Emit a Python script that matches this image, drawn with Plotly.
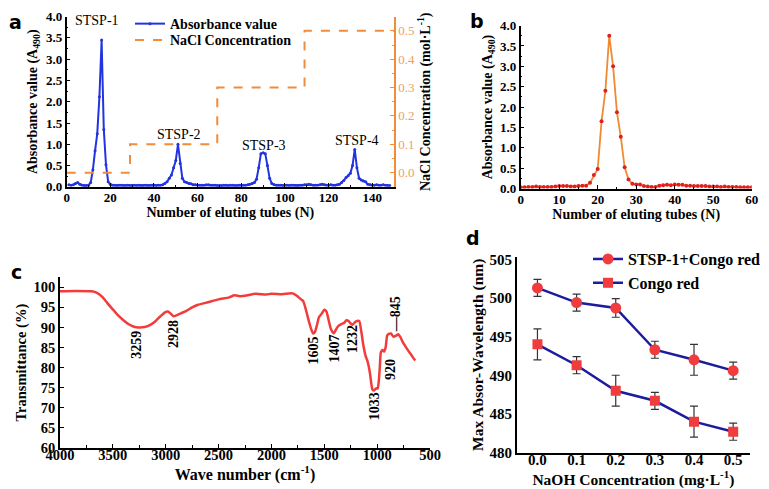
import plotly.graph_objects as go

# ---------------- Panel a data ----------------
tubes_a = list(range(1, 149))
absorb_a = [
    0.05, 0.04, 0.05, 0.08, 0.10, 0.06, 0.04, 0.03, 0.03, 0.04,
    0.10, 0.40, 0.85, 1.25, 2.12, 3.45, 1.35, 0.52, 0.12, 0.06,
    0.04, 0.04, 0.03, 0.04, 0.04, 0.03, 0.03, 0.04, 0.03, 0.03,
    0.04, 0.03, 0.04, 0.03, 0.03, 0.04, 0.03, 0.03, 0.04, 0.04,
    0.03, 0.04, 0.04, 0.05, 0.08, 0.12, 0.20, 0.28, 0.45, 0.62,
    1.00, 0.55, 0.20, 0.12, 0.10, 0.08, 0.07, 0.05, 0.05, 0.04,
    0.04, 0.04, 0.04, 0.05, 0.05, 0.04, 0.04, 0.04, 0.03, 0.03,
    0.03, 0.04, 0.04, 0.03, 0.04, 0.04, 0.03, 0.03, 0.04, 0.04,
    0.04, 0.04, 0.05, 0.06, 0.08, 0.10, 0.18, 0.45, 0.78, 0.80,
    0.78, 0.50, 0.20, 0.08, 0.05, 0.04, 0.04, 0.04, 0.03, 0.04,
    0.04, 0.03, 0.04, 0.04, 0.03, 0.03, 0.04, 0.04, 0.05, 0.05,
    0.06, 0.05, 0.04, 0.04, 0.04, 0.05, 0.06, 0.05, 0.04, 0.04,
    0.05, 0.04, 0.04, 0.05, 0.06, 0.10, 0.15, 0.22, 0.26, 0.32,
    0.50, 0.88, 0.45, 0.20, 0.16, 0.14, 0.12, 0.06, 0.05, 0.04,
    0.04, 0.05, 0.04, 0.04, 0.05, 0.04, 0.03, 0.03,
]
nacl_tubes = [0, 29, 29, 69, 69, 109, 109, 150]
nacl_conc = [0.0, 0.0, 0.1, 0.1, 0.3, 0.3, 0.5, 0.5]
peak_names = ["STSP-1", "STSP-2", "STSP-3", "STSP-4"]
peak_label_x = [14, 51.5, 90.6, 133]
peak_label_y = [3.9, 1.24, 0.96, 1.1]

# ---------------- Panel b data ----------------
tubes_b = list(range(0, 61))
absorb_b = [
    0.03, 0.03, 0.04, 0.04, 0.05, 0.04, 0.04, 0.04, 0.04, 0.05,
    0.06, 0.06, 0.06, 0.05, 0.05, 0.06, 0.07, 0.07, 0.14, 0.33,
    0.48, 1.65, 2.40, 3.75, 3.00, 1.87, 1.27, 0.52, 0.22, 0.12,
    0.10, 0.10, 0.06, 0.05, 0.04, 0.04, 0.07, 0.08, 0.09, 0.08,
    0.10, 0.09, 0.09, 0.07, 0.07, 0.06, 0.06, 0.06, 0.06, 0.05,
    0.05, 0.05, 0.04, 0.05, 0.04, 0.04, 0.04, 0.03, 0.03, 0.03,
    0.03,
]

# ---------------- Panel c data ----------------
wavenumber = [4000, 3850, 3700, 3650, 3600, 3550, 3500, 3450, 3400, 3350, 3300, 3259,
              3200, 3150, 3100, 3050, 3000, 2980, 2950, 2928, 2900, 2850, 2800, 2750,
              2700, 2600, 2500, 2400, 2350, 2300, 2250, 2150, 2050, 2000, 1900, 1800,
              1760, 1720, 1700, 1680, 1660, 1640, 1620, 1605, 1590, 1570, 1550, 1520,
              1500, 1480, 1460, 1440, 1420, 1407, 1390, 1370, 1340, 1310, 1290, 1270,
              1250, 1232, 1210, 1190, 1170, 1150, 1130, 1110, 1090, 1070, 1055, 1045,
              1033, 1020, 1005, 995, 985, 975, 965, 950, 935, 920, 905, 890, 870, 845,
              820, 800, 780, 760, 740, 720, 700, 680, 660, 640]
transmit = [99.0, 99.1, 99.0, 98.6, 97.6, 96.0, 94.5, 93.0, 91.8, 90.8, 90.2, 90.0,
            90.1, 90.6, 91.5, 92.8, 93.9, 94.0, 93.4, 92.8, 93.0, 93.6, 94.2, 95.0,
            95.6, 96.3, 97.0, 97.5, 98.0, 97.8, 97.9, 98.4, 98.2, 98.4, 98.3, 98.5,
            97.9, 97.0, 96.6, 95.0, 93.0, 91.0, 89.3, 88.5, 88.8, 90.5, 92.6, 93.6,
            94.4, 94.0, 92.0, 89.8, 88.8, 88.6, 89.5, 90.3, 90.8, 91.2, 91.8, 91.6,
            91.0, 90.7, 91.3, 91.6, 91.6, 89.0, 85.5, 83.0, 81.5, 79.0, 76.0, 74.6,
            74.3, 74.6, 74.9, 74.8, 76.5, 80.0, 83.8, 84.4, 84.0, 85.0, 88.0, 88.4,
            88.5, 87.7, 88.0, 88.3, 87.6, 86.5, 85.6, 84.8, 84.0, 83.3, 82.5, 81.8]
ir_peaks = ["3259", "2928", "1605", "1407", "1232", "1033", "920", "—845"]
ir_peak_x = [3275, 2920, 1600, 1395, 1227, 1025, 880, 826]
ir_peak_y = [85.6, 88.4, 84.2, 84.9, 87.2, 70.3, 79.6, 93.2]

# ---------------- Panel d data ----------------
naoh = [0.0, 0.1, 0.2, 0.3, 0.4, 0.5]
stsp_congo = [501.3, 499.4, 498.7, 493.3, 492.0, 490.6]
stsp_congo_err = [1.1, 1.1, 1.2, 1.1, 2.0, 1.1]
congo = [494.0, 491.3, 488.0, 486.7, 484.0, 482.7]
congo_err = [2.0, 1.1, 2.0, 1.1, 2.0, 1.1]

SERIF = "Liberation Serif"
OFF = 8          # page body margin
W, H = 761, 481


def px_x(p):
    return (p - OFF) / W


def px_y(p):
    return 1 - (p - OFF) / H


fig = go.Figure()

# Panel a traces
fig.add_trace(go.Scatter(x=tubes_a, y=absorb_a, mode="lines+markers", name="Absorbance value",
                         line=dict(color="#2233e0", width=2), marker=dict(size=3, color="#2233e0"),
                         xaxis="x", yaxis="y", legend="legend"))
fig.add_trace(go.Scatter(x=nacl_tubes, y=nacl_conc, mode="lines", name="NaCl Concentration",
                         line=dict(color="#f08c3c", width=2, dash="dash"),
                         xaxis="x", yaxis="y5", legend="legend3"))

# Panel b
fig.add_trace(go.Scatter(x=tubes_b, y=absorb_b, mode="lines+markers", showlegend=False,
                         line=dict(color="#f08a30", width=1.8), marker=dict(size=4, color="#e02020"),
                         xaxis="x2", yaxis="y2"))

# Panel c
fig.add_trace(go.Scatter(x=wavenumber, y=transmit, mode="lines", showlegend=False,
                         line=dict(color="#f23c3c", width=2.5, shape="spline", smoothing=0.6),
                         xaxis="x3", yaxis="y3"))

# Panel d
fig.add_trace(go.Scatter(x=naoh, y=stsp_congo, mode="lines+markers", name="STSP-1+Congo red",
                         line=dict(color="#1c1c9c", width=2.5),
                         marker=dict(symbol="circle", size=11, color="#f03c3c"),
                         error_y=dict(type="data", array=stsp_congo_err, color="#333333", thickness=1.2, width=4),
                         xaxis="x4", yaxis="y4", legend="legend2"))
fig.add_trace(go.Scatter(x=naoh, y=congo, mode="lines+markers", name="Congo red",
                         line=dict(color="#1c1c9c", width=2.5),
                         marker=dict(symbol="square", size=10, color="#f03c3c"),
                         error_y=dict(type="data", array=congo_err, color="#333333", thickness=1.2, width=4),
                         xaxis="x4", yaxis="y4", legend="legend2"))


def bf(size, color="black"):
    return dict(family=SERIF, size=size, color=color, weight="bold")


def axis_common(**kw):
    d = dict(showline=True, linecolor="black", linewidth=1.5, showgrid=False, zeroline=False,
             ticks="inside", ticklen=4, tickwidth=1.2, tickcolor="black", automargin=False,
             mirror=False)
    d.update(kw)
    return d


annotations = []
for name, x, y in zip(peak_names, peak_label_x, peak_label_y):
    annotations.append(dict(text=name, x=x, y=y, xref="x", yref="y", showarrow=False,
                            font=dict(family=SERIF, size=14, color="black")))
for name, x, y in zip(ir_peaks, ir_peak_x, ir_peak_y):
    annotations.append(dict(text=name, x=x, y=y, xref="x3", yref="y3", showarrow=False, textangle=-90,
                            font=bf(14)))
for lab, x, y in [("a", 15, 18), ("b", 477, 17), ("c", 16, 270), ("d", 473, 236)]:
    annotations.append(dict(text=lab, x=px_x(x), y=px_y(y), xref="paper", yref="paper",
                            showarrow=False, xanchor="center", yanchor="middle",
                            font=dict(family="DejaVu Sans", size=19, color="black", weight="bold")))

legend_base = dict(xanchor="left", yanchor="top", bgcolor="rgba(0,0,0,0)", itemwidth=30, tracegroupgap=0)

fig.update_layout(
    width=W, height=H, margin=dict(l=0, r=0, t=0, b=0),
    paper_bgcolor="white", plot_bgcolor="white",
    font=dict(family=SERIF, color="black"),
    annotations=annotations,
    legend=dict(x=px_x(130), y=px_y(4), font=bf(14), **legend_base),
    legend3=dict(x=px_x(130), y=px_y(20.5), font=bf(14), **legend_base),
    legend2=dict(x=px_x(588), y=px_y(240), font=bf(16), **legend_base),
    # Panel a
    xaxis=axis_common(domain=[px_x(66.7), px_x(394)], range=[0, 150], anchor="y", dtick=20,
                      minor=dict(dtick=10, ticks="inside", ticklen=2, tickcolor="black"),
                      tickfont=bf(13), ticklabelstandoff=-2,
                      title=dict(text="Number of eluting tubes (N)", font=bf(14), standoff=2)),
    yaxis=axis_common(domain=[px_y(184.3), px_y(12.7)], range=[0, 4], anchor="x", dtick=0.5, tickformat=".1f",
                      minor=dict(dtick=0.25, ticks="inside", ticklen=2, tickcolor="black"),
                      tickfont=bf(13),
                      title=dict(text="Absorbance value (A<sub>490</sub>)", font=bf(14), standoff=5)),
    yaxis5=axis_common(overlaying="y", side="right", anchor="x", range=[-0.05, 0.55], dtick=0.1,
                       tickformat=".1f", linecolor="#f08c3c", tickcolor="#f08c3c",
                       minor=dict(dtick=0.05, ticks="inside", ticklen=2, tickcolor="#f08c3c"),
                       tickfont=dict(family=SERIF, size=13, color="#f0a060"),
                       title=dict(text="NaCl Concentration (mol·L<sup>-1</sup>)", font=bf(14), standoff=4)),
    # Panel b
    xaxis2=axis_common(domain=[px_x(520.7), px_x(751.7)], range=[0, 60], anchor="y2", dtick=10,
                       minor=dict(dtick=5, ticks="inside", ticklen=2, tickcolor="black"),
                       tickfont=bf(13), ticklabelstandoff=-2,
                       title=dict(text="Number of eluting tubes (N)", font=bf(14), standoff=2)),
    yaxis2=axis_common(domain=[px_y(186), px_y(21.7)], range=[0, 4], anchor="x2", dtick=0.5, tickformat=".1f",
                       minor=dict(dtick=0.25, ticks="inside", ticklen=2, tickcolor="black"),
                       tickfont=bf(13),
                       title=dict(text="Absorbance value (A<sub>490</sub>)", font=bf(14), standoff=4)),
    # Panel c
    xaxis3=axis_common(domain=[px_x(60), px_x(430)], range=[4000, 500], anchor="y3", dtick=500,
                       minor=dict(dtick=250, ticks="inside", ticklen=3, tickcolor="black"),
                       tickfont=bf(14.5), ticklabelstandoff=-7,
                       title=dict(text="Wave number (cm<sup>-1</sup>)", font=bf(16), standoff=2)),
    yaxis3=axis_common(domain=[px_y(447.7), px_y(275.5)], range=[60, 102.5], anchor="x3",
                       tickvals=[60, 65, 70, 75, 80, 85, 90, 95, 100],
                       tickfont=bf(14.5),
                       title=dict(text="Transmittance (%)", font=bf(14.5), standoff=4)),
    # Panel d
    xaxis4=axis_common(domain=[px_x(516.7), px_x(750)], range=[-0.053, 0.543], anchor="y4",
                       tickvals=naoh, tickformat=".1f", ticks="", ticklabelstandoff=-7,
                       tickfont=bf(15),
                       title=dict(text="NaOH Concentration (mg·L<sup>-1</sup>)", font=bf(15.5), standoff=4)),
    yaxis4=axis_common(domain=[px_y(452.3), px_y(255)], range=[480, 505.3], anchor="x4", dtick=5,
                       ticks="", tickfont=bf(15),
                       title=dict(text="Max Absor-Wavelength (nm)", font=bf(15.5), standoff=2)),
)

fig.write_html("out.html")
